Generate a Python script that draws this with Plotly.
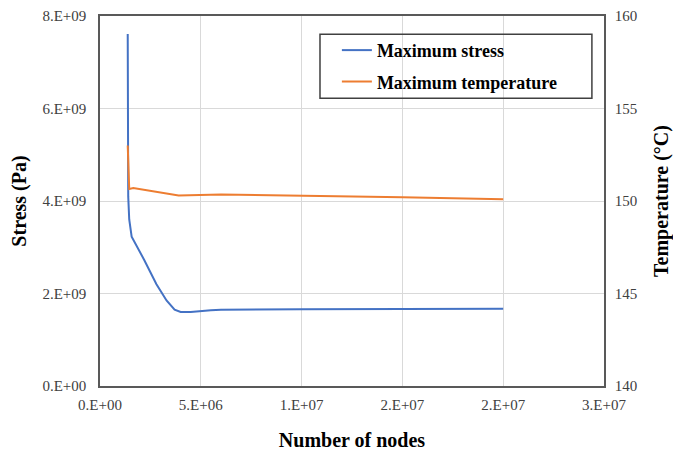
import plotly.graph_objects as go

# Data
stress_nodes = [1.375e6, 1.39e6, 1.40e6, 1.45e6, 1.57e6, 2.2e6, 2.8e6, 3.3e6, 3.7e6, 4.0e6, 4.5e6, 5.5e6, 6.0e6, 1.0e7, 1.5e7, 2.0e7]
stress_vals = [7.61e9, 5.5e9, 4.1e9, 3.6e9, 3.23e9, 2.72e9, 2.2e9, 1.85e9, 1.65e9, 1.6e9, 1.6e9, 1.64e9, 1.65e9, 1.66e9, 1.665e9, 1.67e9]

temp_nodes = [1.375e6, 1.45e6, 1.65e6, 3.9e6, 6.0e6, 1.0e7, 1.5e7, 2.0e7]
temp_vals = [153.0, 150.65, 150.7, 150.3, 150.35, 150.3, 150.2, 150.1]

x_tickvals = [0, 5e6, 1e7, 1.5e7, 2e7, 2.5e7]
x_ticktext = ["0.E+00", "5.E+06", "1.E+07", "2.E+07", "2.E+07", "3.E+07"]
y_tickvals = [0, 2e9, 4e9, 6e9, 8e9]
y_ticktext = ["0.E+00", "2.E+09", "4.E+09", "6.E+09", "8.E+09"]
y2_tickvals = [140, 145, 150, 155, 160]

FONT = "Liberation Serif, Times New Roman, serif"
AXIS_COLOR = "#595959"
GRID = "#d9d9d9"

fig = go.Figure()
fig.add_trace(go.Scatter(x=stress_nodes, y=stress_vals, mode="lines",
                         name="<b>Maximum stress</b>", legendgroup="a",
                         line=dict(color="#4472C4", width=2)))
fig.add_trace(go.Scatter(x=temp_nodes, y=temp_vals, mode="lines",
                         name="<b>Maximum temperature</b>", yaxis="y2", legendgroup="b",
                         line=dict(color="#ED7D31", width=2)))

# legend frame
fig.add_shape(type="rect", xref="paper", yref="paper",
              x0=0.4365, x1=0.976, y0=0.778, y1=0.951,
              line=dict(color="#404040", width=1.5), fillcolor="rgba(0,0,0,0)")

fig.update_layout(
    width=673, height=451,
    margin=dict(l=100, r=69, t=16, b=65),
    paper_bgcolor="white", plot_bgcolor="white",
    font=dict(family=FONT, size=15, color="#404040"),
    showlegend=True,
    legend=dict(x=0.470, y=0.957, xanchor="left", yanchor="top",
                borderwidth=0, bgcolor="rgba(0,0,0,0)",
                font=dict(family=FONT, size=18, color="#000000"),
                traceorder="grouped", tracegroupgap=5, itemwidth=30),
    xaxis=dict(range=[0, 2.5e7], tickvals=x_tickvals, ticktext=x_ticktext,
               showgrid=True, gridcolor=GRID, gridwidth=1, automargin=False,
               showline=True, linecolor=AXIS_COLOR, linewidth=1.5, mirror=True,
               zeroline=False, ticks="", ticklabelstandoff=4,
               title=dict(text="<b>Number of nodes</b>", standoff=22,
                          font=dict(family=FONT, size=20, color="#000000"))),
    yaxis=dict(range=[0, 8e9], tickvals=y_tickvals, ticktext=y_ticktext,
               showgrid=True, gridcolor=GRID, gridwidth=1, automargin=False,
               showline=True, linecolor=AXIS_COLOR, linewidth=1.5, mirror=True,
               zeroline=False, ticks="", ticklabelstandoff=9,
               title=dict(text="<b>Stress (Pa)</b>", standoff=10,
                          font=dict(family=FONT, size=20, color="#000000"))),
    yaxis2=dict(range=[140, 160], tickvals=y2_tickvals, overlaying="y", side="right",
                showgrid=False, showline=True, linecolor=AXIS_COLOR, linewidth=1.5,
                zeroline=False, ticks="", automargin=False, ticklabelstandoff=6,
                title=dict(text="<b>Temperature (°C)</b>", standoff=18,
                           font=dict(family=FONT, size=20, color="#000000"))),
)

fig.write_html("out.html", config={"displayModeBar": False},
               post_script="document.body.style.margin='0';")
